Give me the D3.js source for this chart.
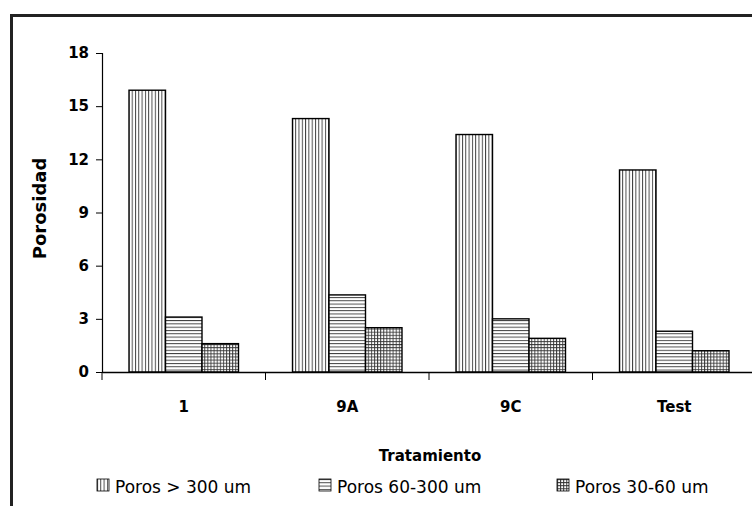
<!DOCTYPE html>
<html>
<head>
<meta charset="utf-8">
<script src="https://cdn.jsdelivr.net/npm/d3@7"></script>
<style>
  html, body { margin: 0; padding: 0; background: #fff; }
  svg { display: block; }
</style>
</head>
<body>
<svg id="chart" width="752" height="506"></svg>
<script>
// Porosity by treatment, three pore-size classes
const categories = ["1", "9A", "9C", "Test"];
const series = ["Poros > 300 um", "Poros 60-300 um", "Poros 30-60 um"];
const porosMayor300 = [15.9, 14.3, 13.4, 11.4];
const poros60a300 = [3.1, 4.35, 3.0, 2.3];
const poros30a60 = [1.6, 2.5, 1.9, 1.2];
const yTicks = [0, 3, 6, 9, 12, 15, 18];

const values = [porosMayor300, poros60a300, poros30a60];
const patternIds = ["pat-vert", "pat-horiz", "pat-grid"];

const svg = d3.select("#chart");
const W = 752, H = 506;
const m = { left: 102, right: -4, top: 53, bottom: 134 };
const font = "'DejaVu Sans', sans-serif";

// hatch patterns
const defs = svg.append("defs");
function pattern(id, size, lines) {
  const p = defs.append("pattern")
    .attr("id", id).attr("patternUnits", "userSpaceOnUse")
    .attr("width", size).attr("height", size);
  p.append("rect").attr("width", size).attr("height", size).attr("fill", "#fff");
  lines.forEach(l => p.append("line")
    .attr("x1", l[0]).attr("y1", l[1]).attr("x2", l[2]).attr("y2", l[3])
    .attr("stroke", "#333").attr("stroke-width", 0.9));
}
pattern("pat-vert", 3.3, [[0.5, 0, 0.5, 3.3]]);
pattern("pat-horiz", 3.3, [[0, 0.5, 3.3, 0.5]]);
pattern("pat-grid", 3.1, [[0.5, 0, 0.5, 3.1], [0, 0.5, 3.1, 0.5]]);

// outer frame
svg.append("rect")
  .attr("x", 11.5).attr("y", 15.5).attr("width", W + 20).attr("height", H + 20)
  .attr("fill", "none").attr("stroke", "#222").attr("stroke-width", 3);

const x0 = d3.scaleBand().domain(categories).range([m.left, W - m.right]).padding(0);
const x1 = d3.scaleBand().domain(series).range([0, x0.bandwidth()]).paddingInner(0).paddingOuter(0.74);
const y = d3.scaleLinear().domain([0, 18]).range([H - m.bottom, m.top]);

// bars
const groups = svg.append("g").selectAll("g")
  .data(categories).join("g")
  .attr("transform", d => `translate(${x0(d)},0)`);

groups.selectAll("rect")
  .data((c, i) => series.map((s, k) => ({ s, k, v: values[k][i] })))
  .join("rect")
  .attr("x", d => x1(d.s))
  .attr("y", d => y(d.v))
  .attr("width", x1.bandwidth())
  .attr("height", d => y(0) - y(d.v))
  .attr("fill", d => `url(#${patternIds[d.k]})`)
  .attr("stroke", "#000").attr("stroke-width", 1.4);

// y axis
const yAxis = svg.append("g")
  .attr("transform", `translate(${m.left},0)`)
  .call(d3.axisLeft(y).tickValues(yTicks).tickSize(6).tickPadding(7));
yAxis.select(".domain").attr("stroke", "#000").attr("stroke-width", 1.2);
yAxis.selectAll(".tick line").attr("stroke", "#000");
yAxis.selectAll("text")
  .attr("font-family", font)
  .attr("font-size", 15).attr("font-weight", "bold").attr("fill", "#000");

// x axis with ticks at category boundaries
const xAxis = svg.append("g")
  .attr("transform", `translate(0,${y(0)})`)
  .call(d3.axisBottom(x0).tickSize(0).tickPadding(29));
xAxis.select(".domain").attr("stroke", "#000").attr("stroke-width", 1.5);
xAxis.selectAll("text")
  .attr("font-family", font)
  .attr("font-size", 15).attr("font-weight", "bold").attr("fill", "#000");
xAxis.selectAll(".boundary")
  .data(categories.map(c => x0(c)).concat([x0(categories[categories.length - 1]) + x0.bandwidth()]))
  .join("line").attr("class", "boundary")
  .attr("x1", d => d).attr("x2", d => d)
  .attr("y1", 0).attr("y2", 8)
  .attr("stroke", "#000").attr("stroke-width", 1);

// axis titles
svg.append("text")
  .attr("transform", `translate(46,${(y(0) + y(18)) / 2 - 4}) rotate(-90)`)
  .attr("text-anchor", "middle")
  .attr("font-family", font)
  .attr("font-size", 18).attr("font-weight", "bold").attr("fill", "#000")
  .text("Porosidad");

svg.append("text")
  .attr("x", 430).attr("y", 461)
  .attr("text-anchor", "middle")
  .attr("font-family", font)
  .attr("font-size", 15).attr("font-weight", "bold").attr("fill", "#000")
  .text("Tratamiento");

// legend
const legendX = [97, 319, 557];
const legend = svg.append("g").selectAll("g")
  .data(series).join("g")
  .attr("transform", (d, i) => `translate(${legendX[i]},479)`);
legend.append("rect")
  .attr("width", 12).attr("height", 12)
  .attr("fill", (d, i) => `url(#${patternIds[i]})`)
  .attr("stroke", "#000").attr("stroke-width", 0.8);
legend.append("text")
  .attr("x", 18).attr("y", 14)
  .attr("font-family", font)
  .attr("font-size", 17).attr("fill", "#000")
  .text(d => d);
</script>
</body>
</html>
